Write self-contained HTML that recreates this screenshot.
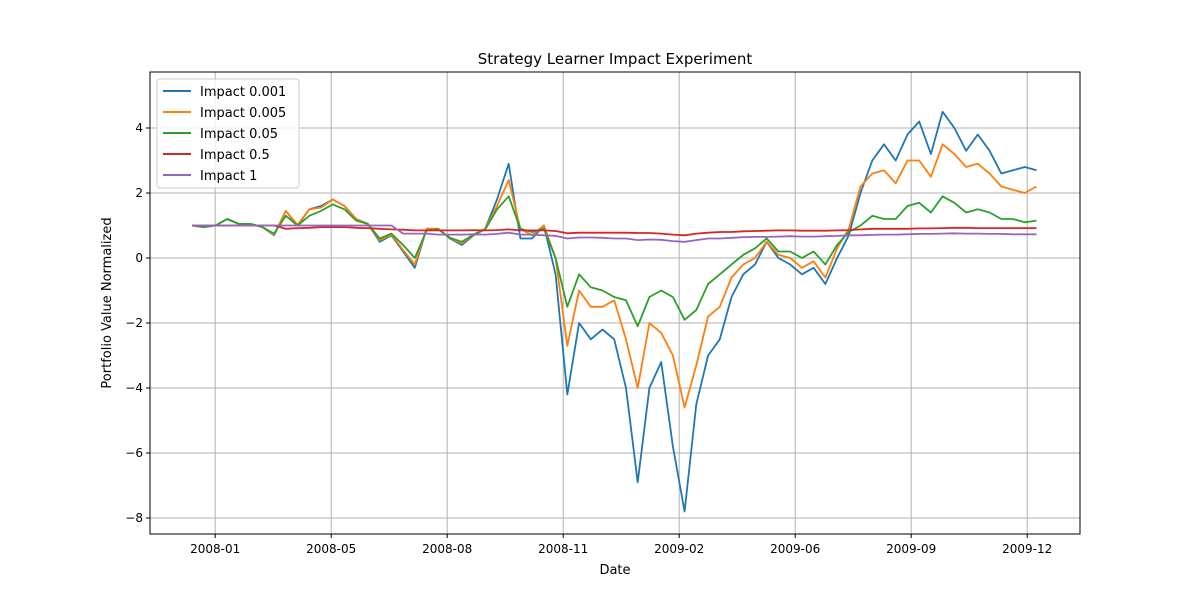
<!DOCTYPE html>
<html><head><meta charset="utf-8"><style>
body{margin:0;background:#fff;font-family:"Liberation Sans","DejaVu Sans",sans-serif}
svg text{font-family:"DejaVu Sans","Liberation Sans",sans-serif}
</style></head><body>
<svg id="chart" width="1200" height="600" viewBox="0 0 1200 600" xmlns="http://www.w3.org/2000/svg">
<rect width="1200" height="600" fill="#fff"/>
<text x="615" y="64" font-size="15" text-anchor="middle">Strategy Learner Impact Experiment</text>
<g id="grid"></g><g id="series"></g>
<rect x="150" y="72" width="930" height="462" fill="none" stroke="#000" stroke-width="1"/>
<g id="ticks"></g>
<text x="615" y="574" font-size="13" text-anchor="middle">Date</text>
<text transform="translate(111,303) rotate(-90)" font-size="13" text-anchor="middle">Portfolio Value Normalized</text>
<g id="legend"></g>
</svg>
<script>
const xTickDays=[20,120,220,320,420,520,620,720];
const xTickLabels=["2008-01","2008-05","2008-08","2008-11","2009-02","2009-06","2009-09","2009-12"];
const yTicks=[4,2,0,-2,-4,-6,-8];
const seriesNames=["Impact 0.001","Impact 0.005","Impact 0.05","Impact 0.5","Impact 1"];
const seriesColors=["#1f77b4","#ff7f0e","#2ca02c","#d62728","#9467bd"];
const impact0001=[1.0,0.95,1.0,1.2,1.05,1.05,0.95,0.7,1.45,1.0,1.5,1.6,1.8,1.6,1.2,1.05,0.5,0.7,0.2,-0.3,0.9,0.9,0.6,0.4,0.7,0.9,1.8,2.9,0.6,0.6,1.0,-0.5,-4.2,-2.0,-2.5,-2.2,-2.5,-4.0,-6.9,-4.0,-3.2,-5.8,-7.8,-4.5,-3.0,-2.5,-1.2,-0.5,-0.2,0.5,0.0,-0.2,-0.5,-0.3,-0.8,0.0,0.7,2.0,3.0,3.5,3.0,3.8,4.2,3.2,4.5,4.0,3.3,3.8,3.3,2.6,2.7,2.8,2.7];
const impact0005=[1.0,0.95,1.0,1.2,1.05,1.05,0.95,0.72,1.45,1.02,1.5,1.55,1.8,1.6,1.2,1.05,0.55,0.72,0.25,-0.2,0.9,0.9,0.62,0.45,0.72,0.9,1.6,2.4,0.9,0.7,1.0,0.0,-2.7,-1.0,-1.5,-1.5,-1.3,-2.5,-4.0,-2.0,-2.3,-3.0,-4.6,-3.3,-1.8,-1.5,-0.6,-0.2,0.0,0.5,0.1,0.0,-0.3,-0.1,-0.6,0.3,0.9,2.2,2.6,2.7,2.3,3.0,3.0,2.5,3.5,3.2,2.8,2.9,2.6,2.2,2.1,2.0,2.2];
const impact005=[1.0,0.95,1.0,1.2,1.05,1.05,0.95,0.75,1.3,1.0,1.3,1.45,1.65,1.5,1.15,1.05,0.6,0.75,0.4,0.0,0.85,0.88,0.62,0.5,0.72,0.88,1.5,1.9,0.9,0.8,0.9,0.0,-1.5,-0.5,-0.9,-1.0,-1.2,-1.3,-2.1,-1.2,-1.0,-1.2,-1.9,-1.6,-0.8,-0.5,-0.2,0.1,0.3,0.6,0.2,0.2,0.0,0.2,-0.2,0.4,0.8,1.0,1.3,1.2,1.2,1.6,1.7,1.4,1.9,1.7,1.4,1.5,1.4,1.2,1.2,1.1,1.15];
const impact05=[1.0,1.0,1.0,1.0,1.0,1.0,1.0,1.0,0.9,0.92,0.93,0.95,0.95,0.95,0.93,0.92,0.9,0.88,0.87,0.85,0.85,0.85,0.85,0.85,0.86,0.85,0.86,0.88,0.85,0.85,0.85,0.83,0.76,0.78,0.78,0.78,0.78,0.78,0.77,0.77,0.75,0.72,0.7,0.75,0.78,0.8,0.8,0.82,0.83,0.84,0.85,0.85,0.84,0.84,0.84,0.85,0.86,0.88,0.9,0.9,0.9,0.9,0.91,0.91,0.92,0.93,0.93,0.92,0.92,0.92,0.92,0.92,0.92];
const impact1=[1.0,1.0,1.0,1.0,1.0,1.0,1.0,1.0,1.0,1.0,1.0,1.0,1.0,1.0,1.0,1.0,1.0,1.0,0.75,0.75,0.75,0.72,0.72,0.72,0.73,0.72,0.74,0.78,0.72,0.72,0.7,0.68,0.6,0.63,0.63,0.62,0.6,0.6,0.55,0.57,0.56,0.52,0.5,0.55,0.6,0.6,0.62,0.64,0.65,0.65,0.66,0.67,0.66,0.66,0.67,0.68,0.7,0.7,0.71,0.72,0.72,0.73,0.74,0.74,0.75,0.76,0.75,0.75,0.74,0.74,0.73,0.73,0.73];
const allSeries=[impact0001,impact0005,impact005,impact05,impact1];
const NS="http://www.w3.org/2000/svg";
const totalDays=728;
function xScale(d){return 192+d*1.16;}
function yScale(v){return 258-v*32.5;}
function mk(tag,attrs,parent){const e=document.createElementNS(NS,tag);for(const k in attrs)e.setAttribute(k,attrs[k]);parent.appendChild(e);return e;}
const grid=document.getElementById('grid'),ticks=document.getElementById('ticks'),ser=document.getElementById('series'),leg=document.getElementById('legend');
xTickDays.forEach((d,i)=>{const x=xScale(d);
 const g=mk('line',{x1:x,x2:x,y1:72,y2:534,stroke:'#b0b0b0','stroke-width':1},grid);
 
 
 const t=mk('line',{x1:x,x2:x,y1:534,y2:538,stroke:'#000'},ticks);
 
 
 const l=mk('text',{x:x,y:553,'font-size':12,'text-anchor':'middle'},ticks);l.textContent=xTickLabels[i];
 
 
});
yTicks.forEach(v=>{const y=yScale(v);
 const g=mk('line',{x1:150,x2:1080,y1:y,y2:y,stroke:'#b0b0b0','stroke-width':1},grid);
 
 
 const t=mk('line',{x1:146,x2:150,y1:y,y2:y,stroke:'#000'},ticks);
 
 
 const l=mk('text',{x:143,y:y+4,'font-size':12,'text-anchor':'end'},ticks);l.textContent=(v<0?'\u2212'+(-v):v);
 
 
});
allSeries.forEach((arr,s)=>{const step=totalDays/(arr.length-1);
 const pts=arr.map((v,i)=>xScale(i*step).toFixed(1)+','+yScale(v).toFixed(1)).join(' ');
 const p=mk('polyline',{points:pts,fill:'none',stroke:seriesColors[s],'stroke-width':1.8,'stroke-linejoin':'round'},ser);
 
 
});
const box=mk('rect',{x:157,y:79,width:142,height:109,rx:3,fill:'#fff','fill-opacity':0.8,stroke:'#ccc'},leg);


seriesNames.forEach((n,i)=>{const y=91+i*21;
 const ln=mk('line',{x1:163,x2:191,y1:y,y2:y,stroke:seriesColors[i],'stroke-width':2},leg);
 
 
 const t=mk('text',{x:200,y:y+5,'font-size':13},leg);t.textContent=n;
 
 
});
</script>
</body></html>
